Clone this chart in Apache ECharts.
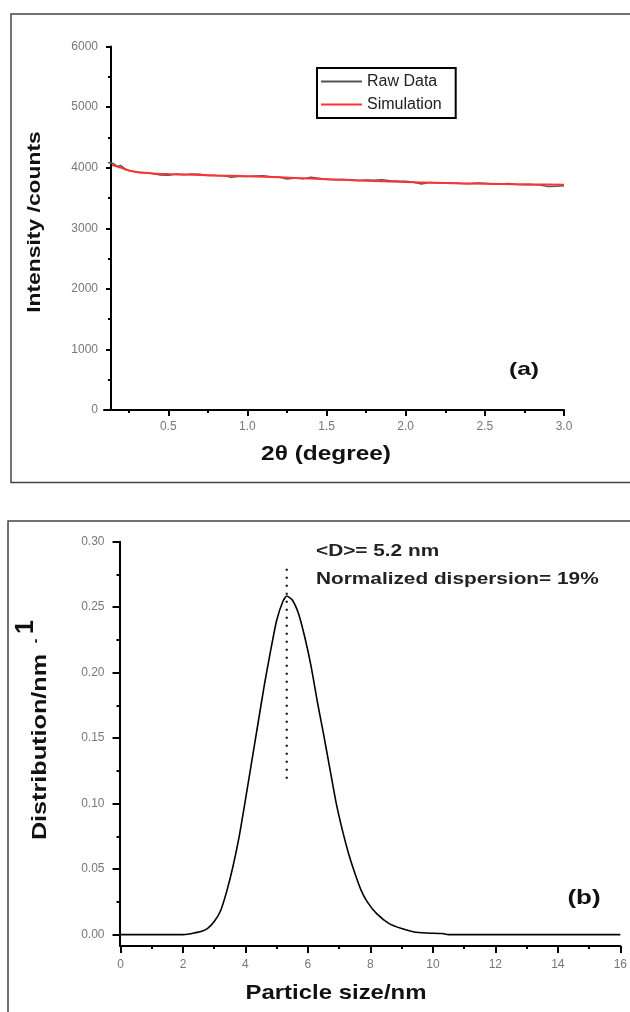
<!DOCTYPE html>
<html><head><meta charset="utf-8">
<script src="https://cdn.jsdelivr.net/npm/echarts@6/dist/echarts.min.js"></script>
<style>html,body{margin:0;padding:0;background:#fff}#c{width:630px;height:1012px}</style>
</head><body><div id="c"></div>
<script>
// ---- Panel (a) data ----
const rawX = [0.12,0.15,0.18,0.20,0.23,0.25,0.28,0.30,0.35,0.40,0.45,0.50,0.55,0.60,0.65,0.70,0.75,0.80,0.85,0.90,0.95,1.00,1.05,1.10,1.15,1.20,1.25,1.30,1.35,1.40,1.45,1.50,1.55,1.60,1.65,1.70,1.75,1.80,1.85,1.90,1.95,2.00,2.05,2.10,2.15,2.20,2.25,2.30,2.35,2.40,2.45,2.50,2.55,2.60,2.65,2.70,2.75,2.80,2.85,2.90,2.95,3.00];
const rawY = [4085,4070,4020,4035,3975,3950,3935,3925,3915,3905,3880,3875,3890,3882,3895,3890,3870,3872,3865,3842,3860,3855,3862,3868,3850,3845,3812,3830,3815,3840,3825,3808,3800,3805,3800,3790,3798,3792,3802,3786,3780,3775,3760,3732,3755,3748,3752,3745,3740,3736,3746,3742,3730,3726,3738,3722,3716,3720,3712,3690,3694,3702];
const simX = [0.145,0.2,0.25,0.3,0.35,0.4,0.5,0.6,0.7,0.8,0.9,1.0,1.2,1.4,1.6,1.8,2.0,2.2,2.4,2.6,2.8,3.0];
const simY = [4045,4000,3955,3930,3915,3905,3895,3888,3880,3872,3865,3857,3840,3820,3800,3780,3762,3750,3740,3732,3725,3720];
const aXTicks = [0.5,1.0,1.5,2.0,2.5,3.0];
const aXMinor = [0.25,0.75,1.25,1.75,2.25,2.75];
const aYTicks = [0,1000,2000,3000,4000,5000,6000];
const aYMinor = [500,1500,2500,3500,4500,5500];

// ---- Panel (b) data ----
const sizeX = [0,1,2,2.2,2.4,2.6,2.8,3.0,3.2,3.4,3.6,3.8,4.0,4.2,4.4,4.6,4.8,5.0,5.2,5.32,5.5,5.7,5.9,6.1,6.3,6.5,6.7,6.9,7.1,7.3,7.5,7.7,7.9,8.2,8.6,9.0,9.4,9.8,10.3,10.5,12,14,16];
const distY = [0,0,0,0.0005,0.0015,0.0025,0.005,0.010,0.018,0.033,0.052,0.075,0.103,0.132,0.161,0.190,0.216,0.240,0.2545,0.2585,0.2555,0.245,0.227,0.205,0.178,0.153,0.127,0.101,0.080,0.062,0.047,0.034,0.025,0.016,0.0084,0.0046,0.002,0.0012,0.0008,0,0,0,0];
const meanX = [5.32,5.32];
const meanY = [0.119,0.282];
const bXTicks = [0,2,4,6,8,10,12,14,16];
const bXMinor = [1,3,5,7,9,11,13,15];
const bYTicks = [0,0.05,0.10,0.15,0.20,0.25,0.30];
const bYMinor = [0.025,0.075,0.125,0.175,0.225,0.275];

const FF = "'Liberation Sans', Arial, sans-serif";
const pairs = (xs, ys) => xs.map((x, i) => [x, ys[i]]);

function mainAxis(dim, grid, min, max, ticks, fmt, len, margin, offset) {
  return {
    type: 'value', gridIndex: grid, min: min, max: max,
    position: dim === 'x' ? 'bottom' : 'left', offset: offset || 0,
    axisLine: { show: true, onZero: false, lineStyle: { color: '#000', width: 2 } },
    axisTick: { show: true, inside: false, length: len, customValues: ticks, lineStyle: { color: '#000', width: 2 } },
    axisLabel: { show: true, customValues: ticks, formatter: fmt, margin: margin, color: '#777', fontSize: 12, fontFamily: FF },
    splitLine: { show: false }
  };
}
function minorAxis(dim, grid, min, max, ticks, offset) {
  return {
    type: 'value', gridIndex: grid, min: min, max: max,
    position: dim === 'x' ? 'bottom' : 'left', offset: offset || 0,
    axisLine: { show: false, onZero: false },
    axisTick: { show: true, inside: false, length: 3, customValues: ticks, lineStyle: { color: '#000', width: 2 } },
    axisLabel: { show: false },
    splitLine: { show: false }
  };
}
function txt(x, y, text, size, opts) {
  opts = opts || {};
  return {
    type: 'text', x: x, y: y, rotation: opts.rot || 0, scaleX: opts.sx || 1, scaleY: opts.sy || 1, z: 100,
    style: { text: text, fontSize: size, fontWeight: opts.weight || 'bold', fontFamily: FF, fill: opts.fill || '#111', align: 'center', verticalAlign: 'middle' }
  };
}

const chart = echarts.init(document.getElementById('c'), null, { renderer: 'canvas' });
chart.setOption({
  backgroundColor: '#fff',
  animation: false,
  grid: [
    { left: 104, right: 66, top: 46.5, bottom: 602 },
    { left: 120.5, right: 9.2, top: 541.7, bottom: 66 }
  ],
  xAxis: [
    mainAxis('x', 0, 0.094, 3.0, aXTicks, v => v.toFixed(1), 6, 11),
    minorAxis('x', 0, 0.094, 3.0, aXMinor),
    mainAxis('x', 1, 0, 16, bXTicks, v => String(v), 7, 13),
    minorAxis('x', 1, 0, 16, bXMinor)
  ],
  yAxis: [
    mainAxis('y', 0, 0, 6000, aYTicks, v => String(v), 5, 13, -7),
    minorAxis('y', 0, 0, 6000, aYMinor, -7),
    mainAxis('y', 1, -0.0087, 0.30, bYTicks, v => v.toFixed(2), 7, 15, 1),
    minorAxis('y', 1, -0.0087, 0.30, bYMinor, 1)
  ],
  legend: {
    data: ['Raw Data', 'Simulation'],
    orient: 'vertical', left: 317, top: 68,
    icon: 'rect',
    itemWidth: 41, itemHeight: 2, itemGap: 4,
    padding: [4, 14, 4, 4],
    borderColor: '#000', borderWidth: 2, borderRadius: 0,
    textStyle: { fontSize: 16, color: '#222', fontFamily: FF, lineHeight: 19 }
  },
  series: [
    { name: 'Raw Data', type: 'line', xAxisIndex: 0, yAxisIndex: 0, data: pairs(rawX, rawY), symbol: 'none', lineStyle: { color: '#555', width: 1.5 }, itemStyle: { color: '#555' }, z: 2 },
    { name: 'Simulation', type: 'line', xAxisIndex: 0, yAxisIndex: 0, data: pairs(simX, simY), symbol: 'none', smooth: 0.3, lineStyle: { color: '#ff3333', width: 2 }, itemStyle: { color: '#ff3333' }, z: 3 },
    { name: 'Distribution', type: 'line', xAxisIndex: 2, yAxisIndex: 2, data: pairs(sizeX, distY), symbol: 'none', smooth: 0.2, lineStyle: { color: '#000', width: 1.6 }, z: 3 },
    { name: 'Mean', type: 'line', xAxisIndex: 2, yAxisIndex: 2, data: pairs(meanX, meanY), symbol: 'none', lineStyle: { color: '#000', width: 2, type: [2, 6] }, z: 2 }
  ],
  graphic: [
    { type: 'rect', shape: { x: 11, y: 14, width: 640, height: 468.5 }, style: { fill: 'none', stroke: '#444', lineWidth: 1.5 }, silent: true },
    { type: 'rect', shape: { x: 8, y: 521, width: 640, height: 520 }, style: { fill: 'none', stroke: '#444', lineWidth: 1.5 }, silent: true },
    txt(35, 222, 'Intensity /counts', 18, { rot: Math.PI / 2, sx: 1.27 }),
    txt(326, 454, '2θ (degree)', 20, { sx: 1.22 }),
    txt(524, 370, '(a)', 19, { sx: 1.3 }),
    txt(40, 747, 'Distribution/nm', 21, { rot: Math.PI / 2, sx: 1.2 }),
    txt(36, 641, '-', 14, { rot: Math.PI / 2 }),
    txt(26, 627, '1', 25, { rot: Math.PI / 2 }),
    txt(336, 993, 'Particle size/nm', 21, { sx: 1.14 }),
    txt(584, 898, '(b)', 20, { sx: 1.3 }),
    { type: 'text', x: 316, y: 552, scaleX: 1.3, z: 100, style: { text: '<D>= 5.2 nm', fontSize: 16, fontWeight: 'bold', fontFamily: FF, fill: '#222', align: 'left', verticalAlign: 'middle' } },
    { type: 'text', x: 316, y: 580, scaleX: 1.3, z: 100, style: { text: 'Normalized dispersion= 19%', fontSize: 16, fontWeight: 'bold', fontFamily: FF, fill: '#222', align: 'left', verticalAlign: 'middle' } }
  ]
});
</script></body></html>
